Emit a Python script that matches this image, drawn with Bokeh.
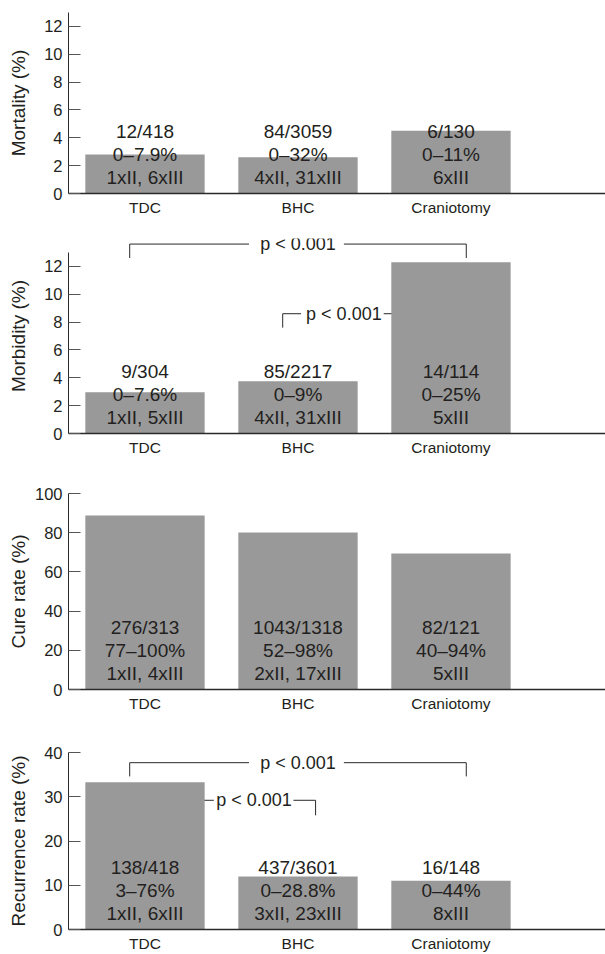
from bokeh.plotting import figure
from bokeh.layouts import column
from bokeh.models import Range1d, FixedTicker, ColumnDataSource
from bokeh.core.properties import value
from bokeh.embed import file_html
from bokeh.resources import INLINE

# ---------------- data ----------------
categories = ["TDC", "BHC", "Craniotomy"]

mortality = [2.8, 2.6, 4.5]
mortality_counts = ["12/418", "84/3059", "6/130"]
mortality_ranges = ["0\u20137.9%", "0\u201332%", "0\u201311%"]
mortality_studies = ["1xII, 6xIII", "4xII, 31xIII", "6xIII"]

morbidity = [2.96, 3.75, 12.3]
morbidity_counts = ["9/304", "85/2217", "14/114"]
morbidity_ranges = ["0\u20137.6%", "0\u20139%", "0\u201325%"]
morbidity_studies = ["1xII, 5xIII", "4xII, 31xIII", "5xIII"]

cure = [88.8, 80.1, 69.4]
cure_counts = ["276/313", "1043/1318", "82/121"]
cure_ranges = ["77\u2013100%", "52\u201398%", "40\u201394%"]
cure_studies = ["1xII, 4xIII", "2xII, 17xIII", "5xIII"]

recurrence = [33.3, 12.0, 11.0]
recurrence_counts = ["138/418", "437/3601", "16/148"]
recurrence_ranges = ["3\u201376%", "0\u201328.8%", "0\u201344%"]
recurrence_studies = ["1xII, 6xIII", "3xII, 23xIII", "8xIII"]

mortality_ticks = [0, 2, 4, 6, 8, 10, 12]
morbidity_ticks = [0, 2, 4, 6, 8, 10, 12]
cure_ticks = [0, 20, 40, 60, 80, 100]
recurrence_ticks = [0, 10, 20, 30, 40]

p_label = "p < 0.001"

# brackets: horizontal segments (x0,x1,y), legs (x,y_top,y_bottom), labels (x,y)
morbidity_segments = [(-0.10, 0.68, 13.6), (1.30, 2.10, 13.6), (0.90, 1.02, 8.6), (1.56, 2.0, 8.6)]
morbidity_legs = [(-0.10, 13.6, 12.6), (2.10, 13.6, 12.6), (0.90, 8.6, 7.6)]
morbidity_plabels = [(1.0, 13.6), (1.30, 8.6)]

recurrence_segments = [(-0.10, 0.68, 37.7), (1.30, 2.10, 37.7), (0.0, 0.45, 29.2), (0.97, 1.115, 29.2)]
recurrence_legs = [(-0.10, 37.7, 34.6), (2.10, 37.7, 34.6), (1.115, 29.2, 25.8)]
recurrence_plabels = [(1.0, 37.7), (0.712, 29.2)]

FONT = "Liberation Sans"
TXT = "#231f20"
BAR = "#999999"
LINE = "#2a2a2a"


def make_panel(vals, counts, ranges, studies, ticks, ylabel, y_end, bounds,
               height, top, bottom, label_standoff,
               segments=(), legs=(), plabels=()):
    p = figure(width=605, height=height, output_backend="svg", toolbar_location=None,
               x_range=Range1d(-0.5, 3.01), y_range=Range1d(0, y_end),
               min_border_left=68, min_border_right=0,
               min_border_top=top, min_border_bottom=bottom)
    p.outline_line_color = None
    p.grid.grid_line_color = None
    p.background_fill_color = "white"

    # brackets (drawn first, under the bars)
    for (x0, x1, y) in segments:
        p.line(x=[x0, x1], y=[y, y], line_color=LINE, line_width=1)
    for (x, y0, y1) in legs:
        p.line(x=[x, x], y=[y0, y1], line_color=LINE, line_width=1)
    if plabels:
        p.text(x=[a for a, b in plabels], y=[b for a, b in plabels], text=[p_label] * len(plabels),
               text_font=value(FONT), text_font_size=value("18px"), text_color=TXT,
               text_align="center", text_baseline="middle")

    xs = list(range(len(categories)))
    src = ColumnDataSource(dict(x=xs, top=vals, c=counts, r=ranges, s=studies,
                                zero=[0] * len(xs)))
    p.vbar(x="x", top="top", bottom=0, width=0.78, source=src,
           fill_color=BAR, line_color=None)

    for col, off in (("c", -62), ("r", -39), ("s", -16)):
        p.text(x="x", y="zero", text=col, source=src, y_offset=off,
               text_font=value(FONT), text_font_size=value("19px"), text_color=TXT,
               text_align="center", text_baseline="middle")

    # x axis
    xa = p.xaxis[0]
    xa.ticker = FixedTicker(ticks=xs)
    xa.major_label_overrides = {i: c for i, c in enumerate(categories)}
    xa.major_tick_line_color = None
    xa.minor_tick_line_color = None
    xa.major_tick_out = 0
    xa.major_tick_in = 0
    xa.axis_line_color = LINE
    xa.axis_line_width = 1.5
    xa.major_label_standoff = 5
    xa.major_label_text_font = FONT
    xa.major_label_text_font_size = "15.5px"
    xa.major_label_text_color = TXT

    # y axis
    ya = p.yaxis[0]
    ya.ticker = FixedTicker(ticks=ticks)
    ya.bounds = bounds
    ya.major_tick_in = 12
    ya.major_tick_out = 0
    ya.major_tick_line_color = "#555555"
    ya.minor_tick_line_color = None
    ya.axis_line_color = LINE
    ya.axis_line_width = 1
    ya.major_label_standoff = 6
    ya.major_label_text_font = FONT
    ya.major_label_text_font_size = "16.5px"
    ya.major_label_text_color = TXT
    ya.axis_label = ylabel
    ya.axis_label_text_font = FONT
    ya.axis_label_text_font_size = "19px"
    ya.axis_label_text_font_style = "normal"
    ya.axis_label_text_color = TXT
    ya.axis_label_standoff = label_standoff
    return p


p1 = make_panel(mortality, mortality_counts, mortality_ranges, mortality_studies,
                mortality_ticks, "Mortality (%)", 13, (0, 13), 228, 12, 35, 12)
p2 = make_panel(morbidity, morbidity_counts, morbidity_ranges, morbidity_studies,
                morbidity_ticks, "Morbidity (%)", 14, (0, 13), 238, 10, 33, 12,
                morbidity_segments, morbidity_legs, morbidity_plabels)
p3 = make_panel(cure, cure_counts, cure_ranges, cure_studies,
                cure_ticks, "Cure rate (%)", 100, (0, 100), 256, 27, 33, 3)
p4 = make_panel(recurrence, recurrence_counts, recurrence_ranges, recurrence_studies,
                recurrence_ticks, "Recurrence rate (%)", 40, (0, 40), 232, 30, 25, 12,
                recurrence_segments, recurrence_legs, recurrence_plabels)

layout = column(p1, p2, p3, p4, spacing=0)
open("out.html", "w").write(file_html(layout, INLINE))
